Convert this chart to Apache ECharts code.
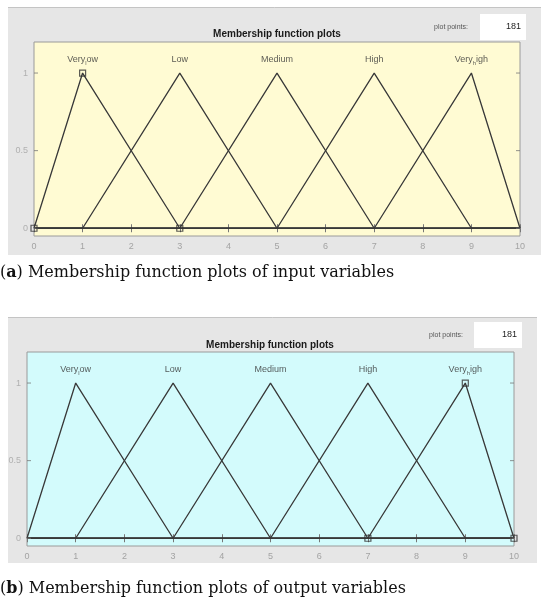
<!DOCTYPE html>
<html>
<head>
<meta charset="utf-8">
<script src="https://cdn.jsdelivr.net/npm/echarts@6/dist/echarts.min.js"></script>
<style>
html,body{margin:0;padding:0;background:#fff;}
#c{width:550px;height:607px;}
</style>
</head>
<body>
<div id="c"></div>
<script>
// ---- data ----
var xTicks = [0,1,2,3,4,5,6,7,8,9,10];
var yTicks = [0,0.5,1];
var mfNames = ['Very_low','Low','Medium','High','Very_high'];
var mfParams = [[0,1,3],[1,3,5],[3,5,7],[5,7,9],[7,9,10]];
var rangeMin = 0, rangeMax = 10;
var labelY = 1.085;
var inputSelected = 0;   // Very_low selected in panel (a)
var outputSelected = 4;  // Very_high selected in panel (b)
var plotPoints = 181;
var titleText = 'Membership function plots';
var captions = ['Membership function plots of input variables','Membership function plots of output variables'];
var captionTags = ['a','b'];

function mfLine(p){
  var pts = [];
  if (p[0] > rangeMin) pts.push([rangeMin,0]);
  pts.push([p[0],0]); pts.push([p[1],1]); pts.push([p[2],0]);
  if (p[2] < rangeMax) pts.push([rangeMax,0]);
  return pts;
}
function labelText(n){
  var i = n.indexOf('_');
  if (i < 0) return n;
  return n.slice(0,i) + '{s|' + n.charAt(i+1) + '}' + n.slice(i+2);
}

var panels = [
  {grid:{left:34,right:30,top:42,height:194}, bg:'#FFFBD3', sel:inputSelected},
  {grid:{left:27,right:36,top:352,height:194}, bg:'#D3FBFC', sel:outputSelected}
];

var grids=[], xAxes=[], yAxes=[], series=[];
var axisLabelStyle = {color:'#a3a3a3', fontSize:9, fontFamily:'Liberation Sans'};
panels.forEach(function(pn, gi){
  grids.push(Object.assign({show:true, backgroundColor:pn.bg, borderColor:'#9a9a9a', borderWidth:1}, pn.grid));
  xAxes.push({type:'value', gridIndex:gi, min:0, max:10, interval:1, position:'bottom',
    axisLine:{show:true, lineStyle:{color:'#9a9a9a'}}, axisTick:{inside:true, length:4, lineStyle:{color:'#777'}},
    splitLine:{show:false}, axisLabel:Object.assign({margin:6}, axisLabelStyle)});
  xAxes.push({type:'value', gridIndex:gi, min:0, max:10, interval:1, position:'top',
    axisLine:{show:false}, axisTick:{inside:true, length:4, lineStyle:{color:'#777'}},
    splitLine:{show:false}, axisLabel:{show:false}});
  yAxes.push({type:'value', gridIndex:gi, min:-0.05, max:1.2, position:'left',
    axisLine:{show:false}, splitLine:{show:false},
    axisTick:{show:false},
    axisLabel:{show:false}});
  yAxes.push({type:'value', gridIndex:gi, min:-0.05, max:1.2, position:'right',
    axisLine:{show:false}, splitLine:{show:false}, axisTick:{show:false}, axisLabel:{show:false}});
  var xi = gi*2, yi = gi*2;
  mfParams.forEach(function(p, k){
    series.push({type:'line', xAxisIndex:xi, yAxisIndex:yi, data:mfLine(p), symbol:'none',
      lineStyle:{color:'#383838', width:1.3}, animation:false, silent:true});
  });
  // tick marks & labels for y (0, 0.5, 1)
  series.push({type:'scatter', xAxisIndex:xi, yAxisIndex:yi, symbol:'rect', symbolSize:[4,1],
    symbolOffset:[2,0],
    data:yTicks.map(function(v){return [0,v];}), itemStyle:{color:'#777'},
    label:{show:true, position:'left', distance:6, formatter:function(d){return String(d.value[1]);}, color:'#a3a3a3', fontSize:9, fontFamily:'Liberation Sans'},
    animation:false, silent:true, z:5});
  series.push({type:'scatter', xAxisIndex:xi, yAxisIndex:yi, symbol:'rect', symbolSize:[4,1],
    symbolOffset:[-2,0],
    data:yTicks.map(function(v){return [10,v];}), itemStyle:{color:'#777'},
    animation:false, silent:true, z:5});
  // selected MF markers
  var sp = mfParams[pn.sel];
  series.push({type:'scatter', xAxisIndex:xi, yAxisIndex:yi, symbol:'rect', symbolSize:6,
    data:[[sp[0],0],[sp[1],1],[sp[2],0]],
    itemStyle:{color:'rgba(0,0,0,0)', borderColor:'#333', borderWidth:1.2}, animation:false, silent:true, z:6});
  // MF name labels
  series.push({type:'scatter', xAxisIndex:xi, yAxisIndex:yi, symbolSize:0,
    data:mfParams.map(function(p,k){return {value:[p[1],labelY], name:mfNames[k]};}),
    label:{show:true, position:'inside', formatter:function(d){return labelText(d.name);},
      color:'#333', fontSize:9, fontFamily:'Liberation Sans',
      rich:{s:{fontSize:6, color:'#333', fontFamily:'Liberation Sans', padding:[6,0,0,0]}}},
    animation:false, silent:true, z:6});
});

var capFont = '16px "DejaVu Serif"';
var graphic = [
  // gray panels
  {type:'rect', shape:{x:8,y:7,width:533,height:248}, style:{fill:'#E6E6E6'}, z:-10},
  {type:'line', shape:{x1:8,y1:7.5,x2:541,y2:7.5}, style:{stroke:'#c4c4c4', lineWidth:1}, z:-9},
  {type:'rect', shape:{x:8,y:317,width:529,height:246}, style:{fill:'#E6E6E6'}, z:-10},
  {type:'line', shape:{x1:8,y1:317.5,x2:537,y2:317.5}, style:{stroke:'#c4c4c4', lineWidth:1}, z:-9},
  // titles
  {type:'text', x:277, y:34, style:{text:titleText, font:'bold 10px "Liberation Sans"', fill:'#1a1a1a', textAlign:'center', textVerticalAlign:'middle'}},
  {type:'text', x:270, y:345, style:{text:titleText, font:'bold 10px "Liberation Sans"', fill:'#1a1a1a', textAlign:'center', textVerticalAlign:'middle'}},
  // plot points boxes
  {type:'text', x:451, y:27, style:{text:'plot points:', font:'7px "Liberation Sans"', fill:'#555', textAlign:'center', textVerticalAlign:'middle'}},
  {type:'rect', shape:{x:480,y:14,width:46,height:26}, style:{fill:'#fff'}, z:-5},
  {type:'text', x:521, y:27, style:{text:String(plotPoints), font:'9px "Liberation Sans"', fill:'#222', textAlign:'right', textVerticalAlign:'middle'}},
  {type:'text', x:446, y:335, style:{text:'plot points:', font:'7px "Liberation Sans"', fill:'#555', textAlign:'center', textVerticalAlign:'middle'}},
  {type:'rect', shape:{x:474,y:322,width:48,height:26}, style:{fill:'#fff'}, z:-5},
  {type:'text', x:517, y:335, style:{text:String(plotPoints), font:'9px "Liberation Sans"', fill:'#222', textAlign:'right', textVerticalAlign:'middle'}},
  // captions
  {type:'text', x:0, y:273, style:{text:'({b|'+captionTags[0]+'}) '+captions[0], font:capFont, fill:'#111', textVerticalAlign:'middle',
     rich:{b:{fontWeight:'bold', fontSize:16, fontFamily:'DejaVu Serif', fill:'#111'}}}},
  {type:'text', x:0, y:589, style:{text:'({b|'+captionTags[1]+'}) '+captions[1], font:capFont, fill:'#111', textVerticalAlign:'middle',
     rich:{b:{fontWeight:'bold', fontSize:16, fontFamily:'DejaVu Serif', fill:'#111'}}}}
];

var chart = echarts.init(document.getElementById('c'), null, {renderer:'canvas'});
chart.setOption({
  animation:false,
  grid:grids, xAxis:xAxes, yAxis:yAxes, series:series, graphic:graphic
});
</script>
</body>
</html>
